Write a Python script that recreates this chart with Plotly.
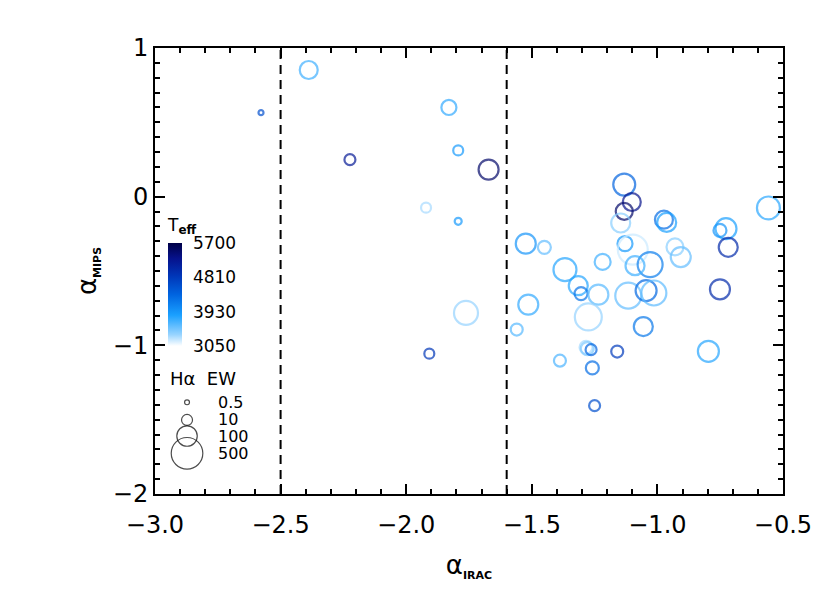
import plotly.graph_objects as go

# spectral indices, effective temperature and H-alpha equivalent width per source
alpha_irac = [-2.388, -2.578, -2.224, -1.830, -1.793, -1.672, -1.921, -1.793, -1.762, -1.908,
              -1.132, -1.102, -1.132, -1.146, -0.974, -0.963, -1.129, -1.098, -0.930, -0.907,
              -1.368, -1.218, -1.029, -1.089, -1.315, -1.304, -1.235, -1.116, -1.045, -1.014,
              -1.275, -1.056, -0.558, -0.727, -0.751, -0.718, -0.751, -0.797, -1.524, -1.450,
              -1.514, -1.560, -1.284, -1.279, -1.264, -1.160, -1.388, -1.259, -1.250]
alpha_mips = [0.852, 0.565, 0.249, 0.600, 0.311, 0.182, -0.074, -0.166, -0.782, -1.056,
              0.081, -0.036, -0.099, -0.177, -0.155, -0.173, -0.316, -0.356, -0.338, -0.406,
              -0.491, -0.439, -0.457, -0.464, -0.599, -0.652, -0.659, -0.666, -0.632, -0.648,
              -0.809, -0.874, -0.076, -0.215, -0.227, -0.341, -0.623, -1.040, -0.316, -0.341,
              -0.726, -0.894, -1.013, -1.022, -1.029, -1.042, -1.103, -1.152, -1.406]
t_eff = [3700, 4600, 5200, 3750, 3900, 5500, 3300, 3900, 3350, 4850,
         4400, 5300, 5500, 3400, 4300, 3850, 3900, 3200, 3400, 3550,
         3800, 3700, 4150, 3700, 3800, 4250, 3600, 3550, 4350, 3580,
         3350, 4200, 3780, 3850, 3950, 5000, 5000, 3800, 3950, 3550,
         3750, 3600, 3300, 3450, 4400, 4800, 3650, 4300, 4600]
ha_ew = [62, 0.54, 10, 32, 7, 92, 7, 1.9, 180, 7,
         130, 62, 50, 76, 62, 76, 32, 410, 50, 92,
         154, 40, 209, 76, 76, 18.6, 92, 242, 110, 209,
         278, 76, 154, 110, 18.6, 76, 92, 110, 92, 18.6,
         92, 13.8, 18.6, 18.6, 10, 13.8, 13.8, 18.6, 10]

cut_lines = [-2.5, -1.6]
teff_ticks = [3050, 3930, 4810, 5700]
legend_ew = [0.5, 10, 100, 500]
legend_labels = ['0.5', '10', '100', '500']


def ew_to_size(ew):
    return 5.9 * ew ** 0.27


blues = [[0.0, '#ffffff'], [0.11, '#98d4ff'], [0.3, '#1aa0ff'], [0.5, '#0064e0'],
         [0.68, '#0036b8'], [0.85, '#06128c'], [1.0, '#000046']]
font = 'DejaVu Sans, sans-serif'

fig = go.Figure()
fig.add_trace(go.Scatter(
    x=alpha_irac, y=alpha_mips, mode='markers', showlegend=False,
    marker=dict(symbol='circle-open', size=[ew_to_size(e) for e in ha_ew],
                color=t_eff, colorscale=blues, cmin=3050, cmax=5700,
                line=dict(width=2.2),
                colorbar=dict(x=0.0207, xanchor='left', y=0.3318, yanchor='bottom',
                              xpad=0, ypad=0,
                              len=131, lenmode='pixels', thickness=14, outlinewidth=0,
                              tickvals=teff_ticks, ticktext=[str(t) for t in teff_ticks],
                              ticks='outside', ticklen=8, tickcolor='rgba(0,0,0,0)',
                              tickfont=dict(size=17, color='black', family=font),
                              title=dict(text='T<sub><b>eff</b></sub>', side='top',
                                         font=dict(size=17, color='black', family=font))))))

# Halpha EW size legend on an invisible overlay axis (0..1 of the plot area)
leg_y = [0.2056, 0.166, 0.130, 0.0913]
fig.add_trace(go.Scatter(
    x=[0.051] * len(legend_ew), y=leg_y, xaxis='x2', yaxis='y2', mode='markers',
    showlegend=False, hoverinfo='skip',
    marker=dict(symbol='circle-open', color='black', line=dict(width=1.2),
                size=[ew_to_size(e) for e in legend_ew])))
for lab, yy in zip(legend_labels, leg_y):
    fig.add_annotation(x=0.097, y=yy, xref='paper', yref='paper', text=lab, showarrow=False,
                       xanchor='left', yanchor='middle', font=dict(size=16, family=font, color='black'))
fig.add_annotation(x=0.0207, y=0.260, xref='paper', yref='paper', text='H\u03b1  EW', showarrow=False,
                   xanchor='left', yanchor='middle', font=dict(size=18, family=font, color='black'))

for xv in cut_lines:
    fig.add_vline(x=xv, line=dict(color='black', width=2, dash='9px,6px'))

axis_style = dict(showgrid=False, zeroline=False, showline=True, linecolor='black', linewidth=2,
                  mirror='ticks', ticks='inside', ticklen=10, tickwidth=2, tickcolor='black',
                  tickfont=dict(size=24, family=font, color='black'),
                  minor=dict(ticks='inside', ticklen=5, tickwidth=1.5, tickcolor='black', dtick=0.1))

fig.update_layout(
    width=822, height=585, margin=dict(l=147, r=47, t=40, b=99),
    plot_bgcolor='white', paper_bgcolor='white', font=dict(family=font, color='black'),
    xaxis=dict(range=[-3.0, -0.5], dtick=0.5, tickformat='.1f', ticklabelstandoff=8,
               title=dict(text="\u03b1<sub><span style='font-size:11px'><b>IRAC</b></span></sub>",
                          font=dict(size=26), standoff=18), **axis_style),
    yaxis=dict(range=[-2, 1], dtick=1,
               title=dict(text="\u03b1<sub><span style='font-size:11px'><b>MIPS</b></span></sub>",
                          font=dict(size=26), standoff=9), **axis_style),
    xaxis2=dict(overlaying='x', range=[0, 1], visible=False),
    yaxis2=dict(overlaying='y', range=[0, 1], visible=False),
)

fig.write_html('out.html')
